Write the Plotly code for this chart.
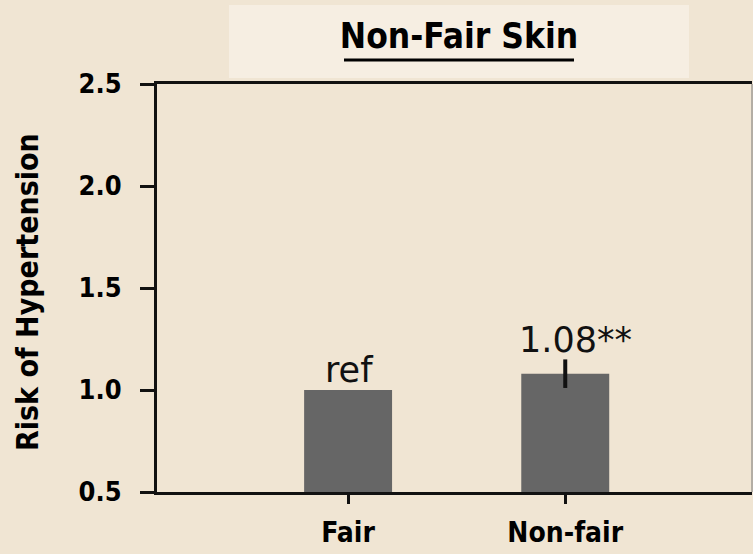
import plotly.graph_objects as go

categories = ["Fair", "Non-fair"]
values = [1.0, 1.08]
err_plus = [0.0, 0.07]
err_minus = [0.0, 0.07]
labels = ["ref", "1.08**"]
label_y = [1.0, 1.15]
y_ticks = [0.5, 1.0, 1.5, 2.0, 2.5]
y_ticktext = ["0.5", "1.0", "1.5", "2.0", "2.5"]

BG = "#f0e5d3"
BOX = "#f6eee2"
COND = "DejaVu Sans Condensed, DejaVu Sans, sans-serif"

# plot-area pixel geometry
L, R, T, B = 157, 752, 84, 492
W, H = R - L, B - T


def px(x):
    return (x - L) / W


def py(y):
    return (B - y) / H


fig = go.Figure()
fig.add_trace(go.Bar(
    x=categories, y=values, width=0.405,
    marker=dict(color="#666666", line=dict(width=0)),
    error_y=dict(type="data", symmetric=False, array=err_plus, arrayminus=err_minus,
                 color="#111111", thickness=4, width=0),
    showlegend=False, hoverinfo="skip",
))

for c, t, yv, xs, ys in zip(categories, labels, label_y, [1, 10], [-2, -3]):
    fig.add_annotation(x=c, y=yv, text=t, showarrow=False, xref="x", yref="y",
                       yanchor="bottom", yshift=ys, xshift=xs,
                       font=dict(family="DejaVu Sans", size=35, color="#111111"))

# y-axis title
fig.add_annotation(x=px(27), y=py(292), xref="paper", yref="paper", text="Risk of Hypertension",
                   textangle=-90, showarrow=False, xanchor="center", yanchor="middle",
                   font=dict(family=COND, size=30, color="#000000", weight="bold"))

# title box
fig.add_shape(type="rect", xref="paper", yref="paper",
              x0=px(229), x1=px(689), y0=py(78), y1=py(5),
              fillcolor=BOX, line=dict(width=0), layer="below")
# title underline
fig.add_shape(type="line", xref="paper", yref="paper",
              x0=px(344), x1=px(574), y0=py(60), y1=py(60),
              line=dict(color="#000000", width=3))
# thin right border
fig.add_shape(type="line", xref="paper", yref="paper", x0=1, x1=1, y0=0, y1=1,
              line=dict(color="#777777", width=1))

fig.update_layout(
    width=753, height=554,
    paper_bgcolor=BG, plot_bgcolor=BG,
    margin=dict(l=L, r=753 - R, t=T, b=554 - B, autoexpand=False),
    title=dict(text="Non-Fair Skin", x=459 / 753, xanchor="center",
               y=1 - 36 / 554, yanchor="middle", xref="container", yref="container",
               font=dict(family=COND, size=35, color="#000000", weight="bold")),
    xaxis=dict(range=[-0.88, 1.86], showline=True, linecolor="#111111", linewidth=3,
               mirror=True, ticks="outside", ticklen=9, tickwidth=3, tickcolor="#111111",
               showgrid=False, zeroline=False, automargin=False, ticklabelstandoff=4,
               tickfont=dict(family=COND, size=28, color="#000000", weight="bold")),
    yaxis=dict(range=[0.5, 2.5], tickvals=y_ticks, ticktext=y_ticktext,
               showline=True, linecolor="#111111", linewidth=3,
               ticks="outside", ticklen=14, tickwidth=3, tickcolor="#111111",
               showgrid=False, zeroline=False, automargin=False, ticklabelstandoff=13,
               tickfont=dict(family=COND, size=27, color="#000000", weight="bold")),
)

fig.write_html("out.html", config={"displayModeBar": False},
               post_script="document.body.style.margin='0';")
